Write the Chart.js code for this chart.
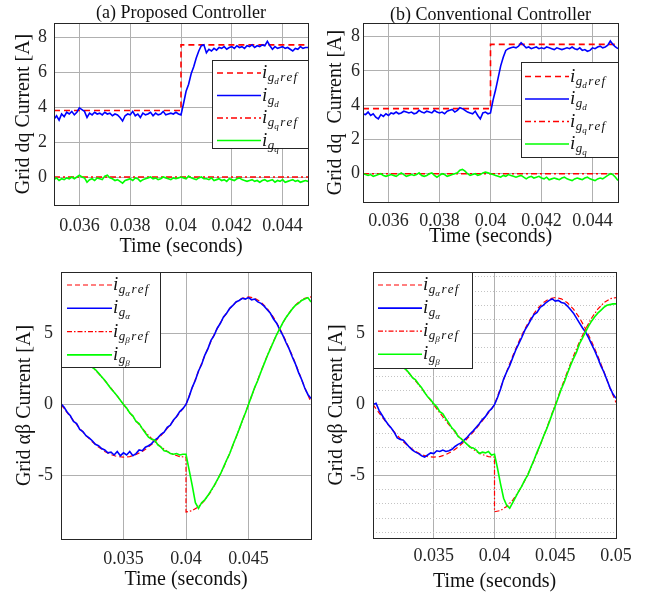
<!DOCTYPE html>
<html>
<head>
<meta charset="utf-8">
<script src="https://cdn.jsdelivr.net/npm/chart.js@4.4.0/dist/chart.umd.min.js"></script>
<style>
  body { margin: 0; background: #fff; }
  #wrap { position: relative; width: 648px; height: 597px; }
  #wrap canvas { position: absolute; left: 0; top: 0; }
</style>
</head>
<body>
<div id="wrap">
  <canvas id="pa" width="648" height="597"></canvas>
  <canvas id="pb" width="648" height="597"></canvas>
  <canvas id="pc" width="648" height="597"></canvas>
  <canvas id="pd" width="648" height="597"></canvas>
</div>
<script>
// ---- time bases (seconds) ----
const tDq = [
  0.0350,0.0351,0.0352,0.0353,0.0354,0.0355,0.0356,0.0357,0.0358,0.0359,
  0.0360,0.0361,0.0362,0.0363,0.0364,0.0365,0.0366,0.0367,0.0368,0.0369,
  0.0370,0.0371,0.0372,0.0373,0.0374,0.0375,0.0376,0.0377,0.0378,0.0379,
  0.0380,0.0381,0.0382,0.0383,0.0384,0.0385,0.0386,0.0387,0.0388,0.0389,
  0.0390,0.0391,0.0392,0.0393,0.0394,0.0395,0.0396,0.0397,0.0398,0.0399,
  0.0400,0.0401,0.0402,0.0403,0.0404,0.0405,0.0406,0.0407,0.0408,0.0409,
  0.0410,0.0411,0.0412,0.0413,0.0414,0.0415,0.0416,0.0417,0.0418,0.0419,
  0.0420,0.0421,0.0422,0.0423,0.0424,0.0425,0.0426,0.0427,0.0428,0.0429,
  0.0430,0.0431,0.0432,0.0433,0.0434,0.0435,0.0436,0.0437,0.0438,0.0439,
  0.0440,0.0441,0.0442,0.0443,0.0444,0.0445,0.0446,0.0447,0.0448,0.0449,
  0.0450
];
const tDqRef = [0.035, 0.040, 0.040, 0.045];

const tAb = [
  0.03000,0.03025,0.03050,0.03075,0.03100,0.03125,0.03150,0.03175,
  0.03200,0.03225,0.03250,0.03275,0.03300,0.03325,0.03350,0.03375,
  0.03400,0.03425,0.03450,0.03475,0.03500,0.03525,0.03550,0.03575,
  0.03600,0.03625,0.03650,0.03675,0.03700,0.03725,0.03750,0.03775,
  0.03800,0.03825,0.03850,0.03875,0.03900,0.03925,0.03950,0.03975,
  0.04000,0.04025,0.04050,0.04075,0.04100,0.04125,0.04150,0.04175,
  0.04200,0.04225,0.04250,0.04275,0.04300,0.04325,0.04350,0.04375,
  0.04400,0.04425,0.04450,0.04475,0.04500,0.04525,0.04550,0.04575,
  0.04600,0.04625,0.04650,0.04675,0.04700,0.04725,0.04750,0.04775,
  0.04800,0.04825,0.04850,0.04875,0.04900,0.04925,0.04950,0.04975,
  0.05000
];
const tAbRef = [
  0.0300,0.0305,0.0310,0.0315,0.0320,0.0325,0.0330,0.0335,0.0340,0.0345,
  0.0350,0.0355,0.0360,0.0365,0.0370,0.0375,0.0380,0.0385,0.0390,0.0395,
  0.0400,0.0400,
  0.0405,0.0410,0.0415,0.0420,0.0425,0.0430,0.0435,0.0440,0.0445,0.0450,
  0.0455,0.0460,0.0465,0.0470,0.0475,0.0480,0.0485,0.0490,0.0495,0.0500
];

// ---- dq references ----
const idRef = [3.8, 3.8, 7.55, 7.55];
const iqRef = [0, 0, 0, 0];

// ---- (a) proposed controller, dq ----
const idA = [
  3.3,3.5,3.25,3.6,3.45,3.7,3.6,3.75,3.55,3.7,
  3.95,3.85,3.75,3.4,3.65,3.55,3.7,3.6,3.65,3.55,
  3.7,3.6,3.65,3.5,3.6,3.55,3.4,3.2,3.5,3.6,
  3.55,3.75,3.5,3.6,3.4,3.65,3.55,3.6,3.7,3.5,
  3.65,3.55,3.6,3.75,3.55,3.6,3.65,3.6,3.7,3.6,
  3.55,4.2,4.9,5.3,5.9,6.3,6.8,7.2,7.5,7.55,
  7.1,7.3,7.2,7.35,7.25,7.4,7.35,7.45,7.3,7.4,
  7.45,7.35,7.5,7.4,7.45,7.35,7.5,7.45,7.55,7.4,
  7.5,7.45,7.55,7.5,7.75,7.5,7.3,7.45,7.35,7.4,
  7.45,7.35,7.4,7.3,7.2,7.35,7.3,7.45,7.35,7.4,
  7.4
];
const iqA = [
  -0.15,-0.05,-0.2,-0.1,-0.15,-0.05,-0.1,0.0,-0.1,0.0,
  0.1,0.0,-0.05,-0.3,-0.15,-0.1,-0.2,-0.05,-0.1,-0.15,
  0.05,0.1,-0.05,-0.1,-0.2,-0.15,-0.25,-0.35,-0.2,-0.15,
  -0.1,-0.2,-0.05,-0.1,-0.25,-0.15,-0.1,-0.05,0.0,-0.1,
  -0.05,-0.15,-0.1,0.0,-0.05,-0.1,-0.15,-0.05,-0.1,-0.05,
  0.0,-0.05,-0.1,0.05,-0.05,-0.1,-0.15,-0.05,0.0,-0.1,
  -0.1,-0.15,-0.05,-0.2,-0.15,-0.1,-0.2,-0.15,-0.25,-0.1,
  -0.15,-0.2,-0.1,-0.05,-0.15,-0.2,-0.25,-0.2,-0.15,-0.25,
  -0.2,-0.3,-0.2,-0.15,-0.25,-0.2,-0.15,-0.3,-0.2,-0.25,
  -0.15,-0.3,-0.25,-0.2,-0.15,-0.25,-0.2,-0.3,-0.25,-0.2,
  -0.25
];

// ---- (b) conventional controller, dq ----
const idB = [
  3.5,3.45,3.6,3.4,3.5,3.3,3.2,3.45,3.35,3.5,
  3.4,3.55,3.5,3.6,3.5,3.55,3.65,3.6,3.55,3.6,
  3.5,3.55,3.7,3.6,3.55,3.65,3.6,3.55,3.7,3.6,
  3.55,3.6,3.5,3.65,3.7,3.75,3.6,3.7,3.85,3.8,
  3.7,3.6,3.55,3.5,3.65,3.4,3.2,3.55,3.6,3.5,
  3.55,4.3,4.9,5.6,6.3,6.8,7.2,7.3,7.35,7.4,
  7.35,7.45,7.65,7.5,7.35,7.4,7.3,7.35,7.4,7.3,
  7.35,7.3,7.4,7.35,7.3,7.25,7.35,7.3,7.25,7.3,
  7.35,7.3,7.4,7.3,7.25,7.35,7.2,7.25,7.15,7.2,
  7.35,7.3,7.4,7.45,7.35,7.4,7.5,7.75,7.55,7.4,
  7.3
];
const iqB = [
  0.0,-0.05,-0.1,-0.05,-0.15,-0.1,-0.05,0.0,-0.1,-0.15,
  -0.1,-0.05,-0.1,-0.15,-0.05,0.05,-0.05,-0.15,-0.1,-0.05,
  -0.1,-0.05,0.05,-0.1,-0.15,-0.1,0.0,0.05,-0.1,-0.2,
  -0.1,0.0,-0.05,-0.15,-0.1,-0.05,0.0,0.05,0.2,0.25,
  0.15,0.0,-0.1,-0.05,0.0,-0.1,-0.05,0.05,0.1,0.05,
  0.0,-0.05,-0.1,-0.15,-0.2,-0.1,-0.15,-0.05,-0.1,-0.15,
  -0.2,-0.15,-0.1,-0.2,-0.3,-0.2,-0.15,-0.25,-0.2,-0.15,
  -0.25,-0.3,-0.2,-0.35,-0.3,-0.25,-0.3,-0.35,-0.25,-0.2,
  -0.3,-0.35,-0.4,-0.3,-0.25,-0.3,-0.35,-0.25,-0.2,-0.3,
  -0.35,-0.4,-0.3,-0.25,-0.3,-0.2,-0.1,0.0,-0.05,-0.2,
  -0.4
];

// ---- alpha/beta references ----
const alphaRef = [
  0,-0.58,-1.14,-1.68,-2.18,-2.62,-2.99,-3.30,-3.52,-3.66,
  -3.70,-3.66,-3.52,-3.30,-2.99,-2.62,-2.18,-1.68,-1.14,-0.58,
  0,0,
  1.18,2.33,3.43,4.44,5.34,6.11,6.73,7.18,7.46,7.55,
  7.46,7.18,6.73,6.11,5.34,4.44,3.43,2.33,1.18,0.15
];
const betaRef = [
  3.70,3.66,3.52,3.30,2.99,2.62,2.18,1.68,1.14,0.58,
  0,-0.58,-1.14,-1.68,-2.18,-2.62,-2.99,-3.30,-3.52,-3.66,
  -3.70,-7.55,
  -7.46,-7.18,-6.73,-6.11,-5.34,-4.44,-3.43,-2.33,-1.18,0,
  1.18,2.33,3.43,4.44,5.34,6.11,6.73,7.18,7.46,7.55
];

// ---- (c) proposed controller, alpha/beta ----
const alphaC = [
  0.05,-0.2,-0.55,-0.8,-1.2,-1.35,-1.75,-1.9,
  -2.2,-2.35,-2.55,-2.8,-2.9,-3.1,-3.2,-3.4,
  -3.35,-3.55,-3.3,-3.6,-3.4,-3.55,-3.3,-3.6,
  -3.45,-3.2,-3.25,-3.0,-2.9,-2.75,-2.5,-2.35,
  -2.1,-1.95,-1.6,-1.45,-1.1,-0.85,-0.5,-0.3,
  0.0,0.55,1.2,1.7,2.35,2.8,3.45,3.9,
  4.5,4.85,5.35,5.7,6.15,6.4,6.75,6.95,
  7.2,7.3,7.45,7.4,7.5,7.35,7.4,7.2,
  7.1,6.9,6.65,6.4,6.0,5.7,5.25,4.85,
  4.35,3.9,3.35,2.85,2.25,1.75,1.15,0.7,
  0.42
];
const betaC = [
  3.65,3.7,3.6,3.55,3.5,3.4,3.3,3.15,
  3.0,2.8,2.6,2.45,2.2,1.95,1.7,1.4,
  1.1,0.85,0.6,0.3,0.0,-0.25,-0.6,-0.8,
  -1.2,-1.35,-1.7,-2.0,-2.3,-2.45,-2.5,-2.85,
  -3.0,-3.25,-3.3,-3.45,-3.5,-3.45,-3.55,-3.5,
  -3.5,-4.6,-5.7,-6.9,-7.3,-6.9,-6.7,-6.4,
  -6.05,-5.7,-5.3,-4.9,-4.4,-3.9,-3.45,-2.85,
  -2.3,-1.75,-1.15,-0.6,0.0,0.6,1.2,1.7,
  2.3,2.85,3.4,3.9,4.4,4.9,5.3,5.75,
  6.1,6.4,6.7,6.95,7.1,7.3,7.4,7.5,
  7.2
];

// ---- (d) conventional controller, alpha/beta ----
const alphaD = [
  0.0,0.1,-0.4,-0.75,-1.1,-1.4,-1.65,-1.95,
  -2.35,-2.45,-2.5,-2.75,-3.0,-3.2,-3.35,-3.45,
  -3.6,-3.7,-3.55,-3.4,-3.45,-3.25,-3.3,-3.2,
  -3.3,-3.25,-3.15,-2.95,-2.8,-2.7,-2.5,-2.3,
  -2.05,-1.85,-1.6,-1.35,-1.05,-0.85,-0.5,-0.3,
  0.0,0.5,1.1,1.8,2.3,2.75,3.3,3.85,
  4.3,4.75,5.25,5.6,6.0,6.35,6.5,6.85,
  7.0,7.2,7.35,7.45,7.3,7.35,7.2,7.15,
  6.95,6.7,6.45,6.1,5.75,5.4,5.1,4.7,
  4.25,3.8,3.3,2.75,2.3,1.75,1.2,0.75,
  0.45
];
const betaD = [
  3.7,3.65,3.65,3.55,3.5,3.4,3.3,3.15,
  2.95,2.8,2.6,2.45,2.2,1.9,1.75,1.45,
  1.2,0.85,0.55,0.35,0.05,-0.15,-0.5,-0.65,
  -1.0,-1.3,-1.65,-1.85,-2.25,-2.4,-2.6,-2.8,
  -3.0,-3.05,-3.2,-3.45,-3.35,-3.4,-3.3,-3.55,
  -3.5,-4.5,-5.6,-6.6,-7.1,-7.3,-6.9,-6.5,
  -6.1,-5.75,-5.3,-4.95,-4.4,-3.9,-3.35,-2.85,
  -2.3,-1.8,-1.25,-0.65,-0.1,0.5,1.1,1.6,
  2.2,2.75,3.25,3.7,4.3,4.7,5.15,5.55,
  5.9,6.2,6.45,6.65,6.85,7.0,7.05,7.1,
  7.1
];

// ---- tick labels ----
const dqTicksX = [0.036, 0.038, 0.04, 0.042, 0.044];
const dqTicksY = [0, 2, 4, 6, 8];
const abTicksXc = [0.035, 0.04, 0.045];
const abTicksXd = [0.035, 0.04, 0.045, 0.05];
const abTicksY = [-5, 0, 5];
const abMinorY = [-9, -8, -7, -6, -4, -3, -2, -1, 1, 2, 3, 4, 6, 7, 8, 9];

const serif = '"Liberation Serif", "Times New Roman", serif';
const ink = '#262626';
const gridInk = '#b0b0b0';
const RED = '#ff0000', BLUE = '#0000ff', GREEN = '#00ff00';

function pts(t, v) {
  return t.map((x, i) => ({ x: x, y: v[i] }));
}

function line(t, v, color, width, dash, order) {
  return {
    data: pts(t, v),
    borderColor: color,
    borderWidth: width,
    borderDash: dash,
    pointRadius: 0,
    fill: false,
    tension: 0,
    order: order,
  };
}

// i_{g_x ref} style legend label
function mathLabel(ctx, x, y, e) {
  ctx.fillStyle = '#111';
  ctx.textAlign = 'left';
  ctx.textBaseline = 'alphabetic';
  ctx.font = 'italic 19px ' + serif;
  ctx.fillText('i', x, y + 5);
  x += ctx.measureText('i').width + 0.5;
  ctx.font = 'italic 13px ' + serif;
  ctx.fillText('g', x, y + 8);
  x += ctx.measureText('g').width;
  ctx.font = 'italic 9px ' + serif;
  ctx.fillText(e.s, x, y + 11);
  x += ctx.measureText(e.s).width + 1.5;
  if (e.ref) {
    ctx.font = 'italic 13px ' + serif;
    for (const ch of 'ref') {
      ctx.fillText(ch, x, y + 8);
      x += ctx.measureText(ch).width + 1.2;
    }
  }
}

const panelDeco = {
  id: 'panelDeco',
  afterDatasetsDraw(chart, args, o) {
    const ctx = chart.ctx;
    const a = chart.chartArea;
    ctx.save();
    // axes box
    ctx.strokeStyle = ink;
    ctx.lineWidth = 1;
    ctx.setLineDash([]);
    const l = Math.round(a.left) + 0.5, t = Math.round(a.top) + 0.5;
    ctx.strokeRect(l, t, Math.round(a.right) - Math.round(a.left), Math.round(a.bottom) - Math.round(a.top));

    // legend
    const lg = o.legend;
    ctx.fillStyle = '#fff';
    ctx.fillRect(lg.box[0], lg.box[1], lg.box[2] - lg.box[0], lg.box[3] - lg.box[1]);
    ctx.strokeStyle = ink;
    ctx.strokeRect(lg.box[0] + 0.5, lg.box[1] + 0.5, lg.box[2] - lg.box[0], lg.box[3] - lg.box[1]);
    lg.entries.forEach((e, i) => {
      const ds = chart.data.datasets[i];
      const y = lg.y0 + i * lg.dy;
      ctx.strokeStyle = ds.borderColor;
      ctx.lineWidth = ds.borderWidth;
      ctx.setLineDash(ds.borderDash);
      ctx.beginPath();
      ctx.moveTo(lg.sx[0], y);
      ctx.lineTo(lg.sx[1], y);
      ctx.stroke();
      ctx.setLineDash([]);
      mathLabel(ctx, lg.sx[1] + 1, y, e);
    });

    // panel title
    if (o.title) {
      ctx.fillStyle = '#111';
      ctx.font = '18px ' + serif;
      ctx.textAlign = 'center';
      ctx.textBaseline = 'middle';
      ctx.fillText(o.title, (a.left + a.right) / 2, o.titleY);
    }
    ctx.restore();
  }
};

function makePanel(id, p) {
  const scales = {
    x: {
      type: 'linear',
      min: p.xMin,
      max: p.xMax,
      afterBuildTicks: s => { s.ticks = p.xTicks.map(v => ({ value: v })); },
      afterFit: s => { s.height = p.xH; },
      ticks: {
        font: { family: serif, size: 18 },
        color: ink,
        padding: p.xPad,
        maxRotation: 0,
        autoSkip: false,
        callback: v => String(+v.toFixed(4)),
      },
      grid: { color: gridInk, drawTicks: false },
      border: { color: ink },
      title: { display: true, text: 'Time (seconds)', font: { family: serif, size: 20 }, color: '#111', padding: 0 },
    },
    y: {
      type: 'linear',
      min: p.yMin,
      max: p.yMax,
      afterBuildTicks: s => { s.ticks = p.yTicks.map(v => ({ value: v })); },
      afterFit: s => { s.width = p.yW; },
      ticks: {
        font: { family: serif, size: 18 },
        color: ink,
        padding: p.yPad,
        autoSkip: false,
        callback: v => String(v),
      },
      grid: { color: gridInk, drawTicks: false },
      border: { color: ink },
      title: { display: true, text: p.yTitle, font: { family: serif, size: 20 }, color: '#111', padding: 0 },
    },
  };
  if (p.yMinor) {
    scales.yMinor = {
      type: 'linear',
      position: 'right',
      min: p.yMin,
      max: p.yMax,
      afterBuildTicks: s => { s.ticks = p.yMinor.map(v => ({ value: v })); },
      afterFit: s => { s.width = 0; },
      ticks: { display: false },
      grid: { color: '#c4c4c4', drawTicks: false },
      border: { display: false, dash: [1, 2] },
    };
  }
  const a = p.area;
  return new Chart(document.getElementById(id), {
    type: 'line',
    data: { datasets: p.datasets },
    options: {
      responsive: false,
      animation: false,
      devicePixelRatio: 1,
      layout: {
        padding: { left: a.l - p.yW, right: 648 - a.r, top: a.t, bottom: 597 - a.b - p.xH },
      },
      plugins: {
        legend: { display: false },
        tooltip: { enabled: false },
        panelDeco: { legend: p.legend, title: p.title, titleY: p.titleY },
      },
      scales: scales,
    },
    plugins: [panelDeco],
  });
}

const dqEntries = [{ s: 'd', ref: true }, { s: 'd' }, { s: 'q', ref: true }, { s: 'q' }];
const abEntries = [{ s: 'α', ref: true }, { s: 'α' }, { s: 'β', ref: true }, { s: 'β' }];

function dqSets(id, iq) {
  return [
    line(tDqRef, idRef, RED, 1.6, [6, 4], 3),
    line(tDq, id, BLUE, 1.6, [], 2),
    line(tDqRef, iqRef, RED, 1.4, [6, 3, 2, 3], 1),
    line(tDq, iq, GREEN, 1.6, [], 0),
  ];
}
function abSets(al, be) {
  return [
    line(tAbRef, alphaRef, RED, 1.2, [5, 3], 3),
    line(tAb, al, BLUE, 1.6, [], 2),
    line(tAbRef, betaRef, RED, 1.2, [5, 2, 1.5, 2], 1),
    line(tAb, be, GREEN, 1.6, [], 0),
  ];
}

makePanel('pa', {
  area: { l: 54, r: 308, t: 23, b: 205 }, yW: 42, xH: 54, yPad: 7, xPad: 10,
  xMin: 0.035, xMax: 0.045, xTicks: dqTicksX,
  yMin: -1.6, yMax: 8.8, yTicks: dqTicksY,
  yTitle: 'Grid dq Current [A]',
  title: '(a) Proposed Controller', titleY: 13,
  datasets: dqSets(idA, iqA),
  legend: { box: [212, 60, 308, 148], y0: 73, dy: 22.5, sx: [217, 261], entries: dqEntries },
});

makePanel('pb', {
  area: { l: 363, r: 618, t: 23, b: 202 }, yW: 39, xH: 47, yPad: 3, xPad: 8,
  xMin: 0.035, xMax: 0.045, xTicks: dqTicksX,
  yMin: -1.65, yMax: 8.8, yTicks: dqTicksY,
  yTitle: 'Grid dq  Current [A]',
  title: '(b) Conventional Controller', titleY: 15,
  datasets: dqSets(idB, iqB),
  legend: { box: [521, 62, 618, 157], y0: 76.5, dy: 22.5, sx: [525, 569], entries: dqEntries },
});

makePanel('pc', {
  area: { l: 61, r: 311, t: 272, b: 539 }, yW: 48, xH: 53, yPad: 8, xPad: 9,
  xMin: 0.03, xMax: 0.05, xTicks: abTicksXc,
  yMin: -9.45, yMax: 9.3, yTicks: abTicksY,
  yTitle: 'Grid αβ Current [A]',
  datasets: abSets(alphaC, betaC),
  legend: { box: [61, 272, 160, 367], y0: 285, dy: 23.3, sx: [67, 112], entries: abEntries },
});

makePanel('pd', {
  area: { l: 373, r: 616, t: 272, b: 538 }, yW: 48, xH: 56, yPad: 8, xPad: 7,
  xMin: 0.03, xMax: 0.05, xTicks: abTicksXd,
  yMin: -9.4, yMax: 9.35, yTicks: abTicksY, yMinor: abMinorY,
  yTitle: 'Grid αβ Current [A]',
  datasets: abSets(alphaD, betaD),
  legend: { box: [373, 272, 472, 368], y0: 285, dy: 23.1, sx: [378, 422], entries: abEntries },
});
</script>
</body>
</html>
